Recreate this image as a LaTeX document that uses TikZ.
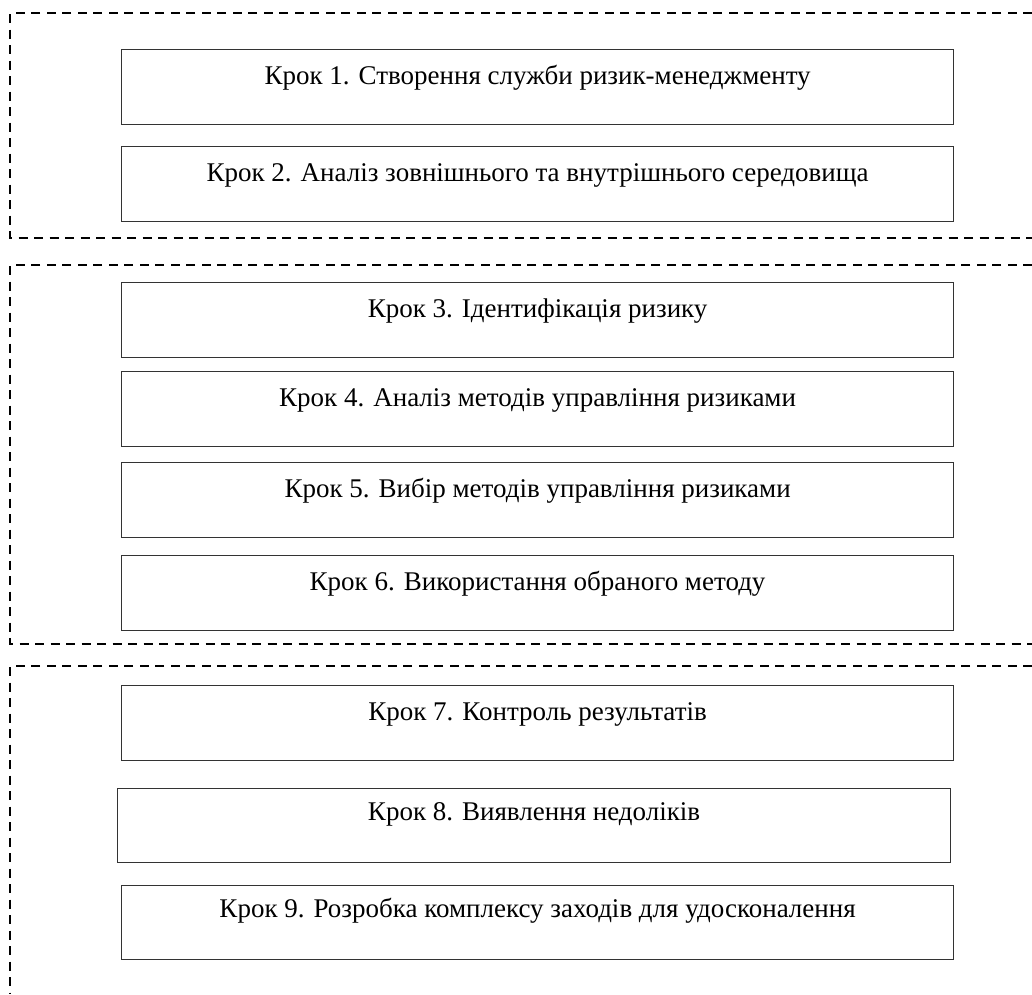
\documentclass[tikz,border=0pt]{standalone}
\usepackage{fontspec}
\setmainfont{Liberation Serif}
\begin{document}
\begin{tikzpicture}[x=1pt,y=-1pt,
  grp/.style={line width=2pt, dash pattern=on 9pt off 6.5pt},
  stepbox/.style={draw=black!80, line width=1.2pt, anchor=north west, inner xsep=0pt, inner ysep=0pt,
    text height=35pt, text depth=40pt, font=\fontsize{27}{31}\selectfont}]
\useasboundingbox (0,0) rectangle (1032,994);
\draw[grp] (1032,13) -| (10,238) -- (1032,238);
\draw[grp] (1032,265) -| (10,644) -- (1032,644);
\draw[grp] (1032,666) -| (10,994);
\node[stepbox, minimum width=832pt] (s1) at (121,49) {Крок 1. Створення служби ризик-менеджменту};
\node[stepbox, minimum width=832pt] (s2) at (121,146) {Крок 2. Аналіз зовнішнього та внутрішнього середовища};
\node[stepbox, minimum width=832pt] (s3) at (121,282) {Крок 3. Ідентифікація ризику};
\node[stepbox, minimum width=832pt] (s4) at (121,371) {Крок 4. Аналіз методів управління ризиками};
\node[stepbox, minimum width=832pt] (s5) at (121,462) {Крок 5. Вибір методів управління ризиками};
\node[stepbox, minimum width=832pt] (s6) at (121,555) {Крок 6. Використання обраного методу};
\node[stepbox, minimum width=832pt] (s7) at (121,685) {Крок 7. Контроль результатів};
\node[stepbox, minimum width=833pt, text height=32pt, text depth=42pt] (s8) at (117,788) {Крок 8. Виявлення недоліків};
\node[stepbox, minimum width=832pt, text height=32pt, text depth=42pt] (s9) at (121,885) {Крок 9. Розробка комплексу заходів для удосконалення};
\end{tikzpicture}
\end{document}
